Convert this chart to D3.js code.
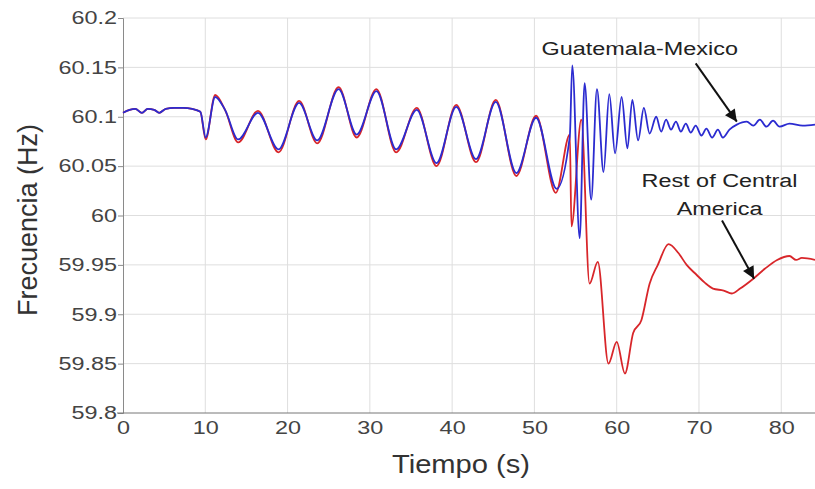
<!DOCTYPE html>
<html>
<head>
<meta charset="utf-8">
<script src="https://cdn.jsdelivr.net/npm/d3@7"></script>
<style>
  body { margin: 0; background: #fff; }
  svg { display: block; font-family: Arial, 'Liberation Sans', sans-serif; }
</style>
</head>
<body>
<div id="svg-container"></div>
<script>
// Guatemala-Mexico (blue)
const blueTime = [0, 0.8, 1.5, 2.3, 3.0, 3.8, 4.4, 5.2, 6.2, 7.3, 8.4, 9.4, 10.05, 11.2, 12.4, 14.0, 16.4, 18.9, 21.4, 23.6, 26.2, 28.4, 30.8, 33.2, 35.7, 38.1, 40.5, 42.9, 45.3, 47.8, 50.2, 52.7, 54.3, 54.6, 55.5, 56.1, 56.9, 57.6, 58.4, 59.1, 59.8, 60.6, 61.3, 61.9, 62.6, 63.3, 64.0, 64.8, 65.4, 66.0, 66.6, 67.2, 67.8, 68.4, 69.0, 69.6, 70.3, 70.9, 71.6, 72.3, 72.9, 73.7, 74.6, 75.8, 76.6, 77.4, 78.2, 79.0, 79.8, 81.0, 82.6, 84.1]
const blueFreq = [60.104, 60.107, 60.108, 60.104, 60.108, 60.107, 60.104, 60.108, 60.109, 60.109, 60.108, 60.105, 60.079, 60.120, 60.107, 60.077, 60.104, 60.067, 60.114, 60.076, 60.128, 60.082, 60.126, 60.067, 60.107, 60.053, 60.110, 60.057, 60.115, 60.043, 60.099, 60.027, 60.080, 60.152, 59.977, 60.134, 60.016, 60.128, 60.044, 60.123, 60.063, 60.120, 60.068, 60.117, 60.076, 60.109, 60.083, 60.100, 60.085, 60.097, 60.087, 60.095, 60.085, 60.093, 60.084, 60.091, 60.081, 60.088, 60.079, 60.087, 60.079, 60.087, 60.092, 60.095, 60.091, 60.097, 60.090, 60.096, 60.090, 60.093, 60.091, 60.092]

// Rest of Central America (red)
const redTime = [0, 0.8, 1.5, 2.3, 3.0, 3.8, 4.4, 5.2, 6.2, 7.3, 8.4, 9.4, 10.05, 11.2, 12.4, 14.0, 16.4, 18.9, 21.4, 23.6, 26.2, 28.4, 30.8, 33.2, 35.7, 38.1, 40.5, 42.9, 45.3, 47.8, 50.2, 52.6, 54.3, 54.5, 55.7, 56.7, 57.7, 59.0, 60.0, 61.0, 62.0, 63.0, 64.0, 65.0, 66.3, 67.5, 68.5, 69.7, 70.7, 71.7, 73.0, 74.0, 75.0, 76.6, 78.0, 79.5, 81.0, 81.8, 82.5, 84.1]
const redFreq = [60.104, 60.107, 60.108, 60.104, 60.108, 60.107, 60.104, 60.108, 60.109, 60.109, 60.108, 60.105, 60.077, 60.122, 60.107, 60.074, 60.106, 60.064, 60.116, 60.073, 60.130, 60.079, 60.128, 60.064, 60.109, 60.050, 60.112, 60.054, 60.117, 60.040, 60.101, 60.023, 60.082, 59.989, 60.097, 59.931, 59.953, 59.850, 59.872, 59.840, 59.881, 59.894, 59.931, 59.950, 59.971, 59.962, 59.950, 59.940, 59.932, 59.926, 59.924, 59.921, 59.926, 59.936, 59.946, 59.955, 59.959, 59.955, 59.957, 59.955]

const xTicks = [0, 10, 20, 30, 40, 50, 60, 70, 80]
const yTicks = [59.8, 59.85, 59.9, 59.95, 60, 60.05, 60.1, 60.15, 60.2]

const annotations = [
  { lines: ['Guatemala-Mexico'], tx: 62.8, tf: 60.170, from: [69.6, 60.154], to: [74.6, 60.095] },
  { lines: ['Rest of Central', 'America'], tx: 72.5, tf: 60.036, from: [72.8, 59.995], to: [76.7, 59.936] },
]

const width = 815
const height = 489
const textStretch = 1.3

// widen text horizontally, the source image is stretched
const stretch = (sel, factor) => {
  sel.each(function () {
    const len = this.getComputedTextLength()
    d3.select(this)
      .attr('textLength', len * factor)
      .attr('lengthAdjust', 'spacingAndGlyphs')
  })
}

const svg = d3.select('#svg-container')
  .append('svg')
  .attr('width', width)
  .attr('height', height)
  .style('background', '#fff')

const xScale = d3.scaleLinear().domain([0, 84.1]).range([123, 815])
const yScale = d3.scaleLinear().domain([59.8, 60.2]).range([413, 18])

// grid
svg.append('g')
  .selectAll('line')
  .data(xTicks.slice(1))
  .join('line')
  .attr('x1', d => xScale(d))
  .attr('x2', d => xScale(d))
  .attr('y1', yScale(60.2))
  .attr('y2', yScale(59.8))
  .attr('stroke', '#dedede')
  .attr('stroke-width', 1)

svg.append('g')
  .selectAll('line')
  .data(yTicks.slice(1))
  .join('line')
  .attr('x1', xScale(0))
  .attr('x2', width)
  .attr('y1', d => yScale(d))
  .attr('y2', d => yScale(d))
  .attr('stroke', '#dedede')
  .attr('stroke-width', 1)

// axes
svg.append('g')
  .attr('transform', `translate(${xScale(0)},0)`)
  .call(d3.axisLeft(yScale).tickValues(yTicks).tickSize(5).tickPadding(1).tickFormat(d3.format('')))
  .call(g => {
    g.select('.domain').attr('stroke', '#8a8a8a')
    g.selectAll('.tick line').attr('stroke', '#8a8a8a')
    g.selectAll('.tick text')
      .attr('fill', '#444')
      .style('font-size', '18px')
      .style('font-family', 'Arial, Liberation Sans, sans-serif')
      .call(stretch, textStretch)
  })

svg.append('g')
  .attr('transform', `translate(0,${yScale(59.8)})`)
  .call(d3.axisBottom(xScale).tickValues(xTicks).tickSize(0).tickPadding(8).tickFormat(d3.format('d')))
  .call(g => {
    g.select('.domain').attr('stroke', '#777').attr('d', `M${xScale(0) - 6},0H${width}`)
    g.selectAll('.tick text')
      .attr('fill', '#444')
      .style('font-size', '18px')
      .style('font-family', 'Arial, Liberation Sans, sans-serif')
      .call(stretch, textStretch)
  })

// lines
const line = d3.line()
  .x(d => xScale(d[0]))
  .y(d => yScale(d[1]))
  .curve(d3.curveMonotoneX)

svg.append('path')
  .datum(redTime.map((t, i) => [t, redFreq[i]]))
  .attr('d', line)
  .attr('fill', 'none')
  .attr('stroke', '#d8262a')
  .attr('stroke-width', 1.8)

svg.append('path')
  .datum(blueTime.map((t, i) => [t, blueFreq[i]]))
  .attr('d', line)
  .attr('fill', 'none')
  .attr('stroke', '#2b2bd0')
  .attr('stroke-width', 1.8)

// axis titles
svg.append('text')
  .attr('x', 461)
  .attr('y', 473)
  .attr('text-anchor', 'middle')
  .attr('fill', '#333')
  .style('font-size', '26px')
  .text('Tiempo (s)')
  .call(stretch, 1.12)

svg.append('text')
  .attr('transform', 'translate(37,220) rotate(-90)')
  .attr('text-anchor', 'middle')
  .attr('fill', '#333')
  .style('font-size', '27px')
  .text('Frecuencia (Hz)')

// annotations
svg.append('defs')
  .append('marker')
  .attr('id', 'arrow')
  .attr('viewBox', '0 0 10 10')
  .attr('refX', 10)
  .attr('refY', 5)
  .attr('markerWidth', 20)
  .attr('markerHeight', 12)
  .attr('markerUnits', 'userSpaceOnUse')
  .attr('orient', 'auto')
  .append('path')
  .attr('d', 'M0,0L10,5L0,10Z')
  .attr('fill', '#111')

annotations.forEach(a => {
  const t = svg.append('text')
    .attr('fill', '#222')
    .style('font-size', '18px')
  a.lines.forEach((l, i) => {
    t.append('tspan')
      .attr('x', xScale(a.tx))
      .attr('y', yScale(a.tf) + 7 + i * 28)
      .attr('text-anchor', 'middle')
      .text(l)
  })
  t.selectAll('tspan').call(stretch, textStretch)
  svg.append('line')
    .attr('x1', xScale(a.from[0]))
    .attr('y1', yScale(a.from[1]))
    .attr('x2', xScale(a.to[0]))
    .attr('y2', yScale(a.to[1]))
    .attr('stroke', '#111')
    .attr('stroke-width', 2)
    .attr('marker-end', 'url(#arrow)')
})
</script>
</body>
</html>
